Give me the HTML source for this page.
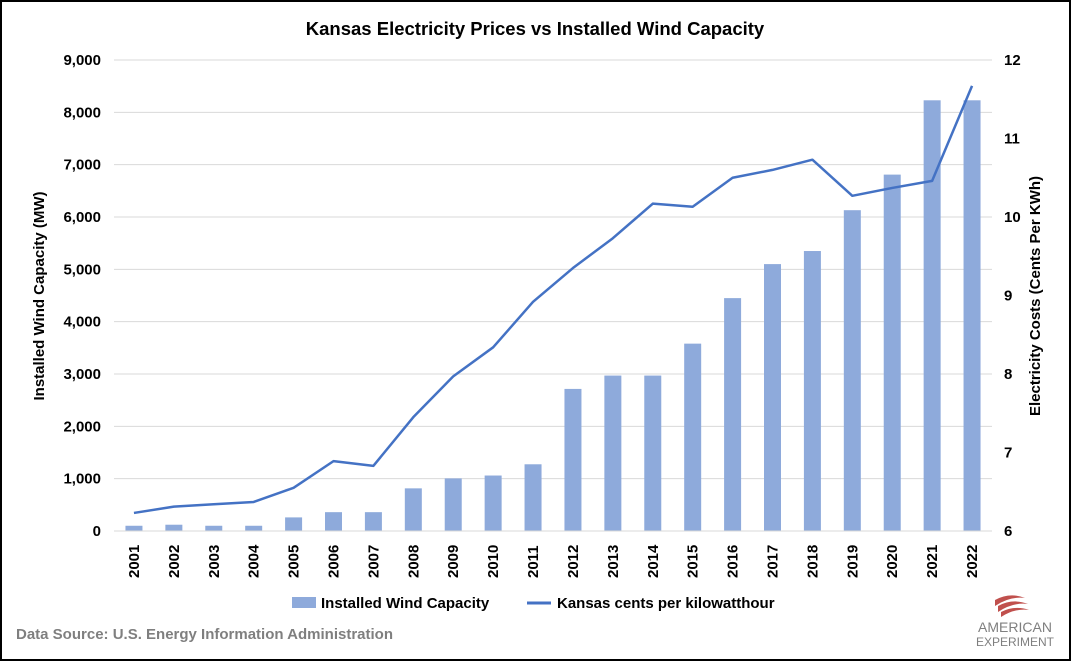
<!DOCTYPE html>
<html><head><meta charset="utf-8"><style>
body{margin:0;background:#fff;}
svg{display:block;font-family:"Liberation Sans",Arial,sans-serif;}
</style></head><body>
<svg id="chart" width="1072" height="662" viewBox="0 0 1072 662">
<rect x="1" y="1" width="1069" height="659" fill="#fff" stroke="#000" stroke-width="2"/>
<text x="535" y="35" text-anchor="middle" font-size="18.5" font-weight="bold" fill="#000">Kansas Electricity Prices vs Installed Wind Capacity</text>
<g id="grid"></g><g id="bars"></g><g id="line"></g><g id="axes"></g>
<text transform="translate(44,296) rotate(-90)" text-anchor="middle" font-size="15" font-weight="bold" fill="#000">Installed Wind Capacity (MW)</text>
<text transform="translate(1040,296) rotate(-90)" text-anchor="middle" font-size="15" font-weight="bold" fill="#000">Electricity Costs (Cents Per KWh)</text>
<g>
<rect x="292" y="597" width="24" height="11" fill="#8eaadb"/>
<text x="321" y="608" font-size="15" font-weight="bold" fill="#000">Installed Wind Capacity</text>
<line x1="527" y1="603" x2="551" y2="603" stroke="#4472c4" stroke-width="3"/>
<text x="557" y="608" font-size="15" font-weight="bold" fill="#000">Kansas cents per kilowatthour</text>
</g>
<text x="16" y="639" font-size="15" font-weight="bold" fill="#7f7f7f">Data Source: U.S. Energy Information Administration</text>
<g>
<path d="M995 600 q15 -8 30 -2 q-15 -2 -30 8z M998 606 q15 -8 30 -2 q-15 -2 -30 8z M1001 612 q14 -7 28 -2 q-14 -2 -28 7z" fill="#c0504d"/>
<text x="1015" y="632" text-anchor="middle" font-size="14" fill="#7f7f7f">AMERICAN</text>
<text x="1015" y="646" text-anchor="middle" font-size="12" fill="#7f7f7f">EXPERIMENT</text>
</g>
</svg>
<script>
const years=["2001","2002","2003","2004","2005","2006","2007","2008","2009","2010","2011","2012","2013","2014","2015","2016","2017","2018","2019","2020","2021","2022"];
const windMW=[100,120,100,100,260,360,360,815,1005,1060,1275,2715,2970,2970,3580,4450,5100,5350,6130,6810,8230,8230];
const cents=[6.23,6.31,6.34,6.37,6.55,6.89,6.83,7.45,7.97,8.34,8.92,9.35,9.73,10.17,10.13,10.5,10.6,10.73,10.27,10.37,10.46,11.67];
const leftTicks=[0,1000,2000,3000,4000,5000,6000,7000,8000,9000];
const rightTicks=[6,7,8,9,10,11,12];
const NS="http://www.w3.org/2000/svg";
const x0=114,x1=992,yB=531,yT=60;
const band=(x1-x0)/years.length;
const xS=i=>x0+band*(i+0.5);
const yL=v=>yB-(v/9000)*(yB-yT);
const yR=v=>yB-((v-6)/6)*(yB-yT);
function mk(t,a,p){const e=document.createElementNS(NS,t);for(const k in a)e.setAttribute(k,a[k]);p.appendChild(e);return e;}
const grid=document.getElementById('grid'),bars=document.getElementById('bars'),line=document.getElementById('line'),axes=document.getElementById('axes');
leftTicks.forEach(v=>{
 const l=mk('line',{x1:x0,x2:x1,y1:yL(v),y2:yL(v),stroke:'#d9d9d9','stroke-width':1},grid);
 
 
 const t=mk('text',{x:101,y:yL(v)+5,'text-anchor':'end','font-size':15,'font-weight':'bold'},axes);
 t.textContent=v.toLocaleString('en-US');
 
 
});
rightTicks.forEach(v=>{
 const t=mk('text',{x:1004,y:yR(v)+5,'font-size':15,'font-weight':'bold'},axes);
 t.textContent=v;
 
 
});
years.forEach((y,i)=>{
 const b=mk('rect',{x:xS(i)-8.5,y:yL(windMW[i]),width:17,height:yB-yL(windMW[i]),fill:'#8eaadb'},bars);
 
 
 const t=mk('text',{transform:`translate(${xS(i)+5},${578}) rotate(-90)`,'font-size':15,'font-weight':'bold'},axes);
 t.textContent=y;
 
 
});
const ax=mk('line',{x1:x0,x2:x1,y1:yB,y2:yB,stroke:'#d9d9d9','stroke-width':1},axes);


const p=mk('polyline',{points:cents.map((c,i)=>xS(i)+','+yR(c)).join(' '),fill:'none',stroke:'#4472c4','stroke-width':2.5,'stroke-linejoin':'round'},line);


</script>
</body></html>
